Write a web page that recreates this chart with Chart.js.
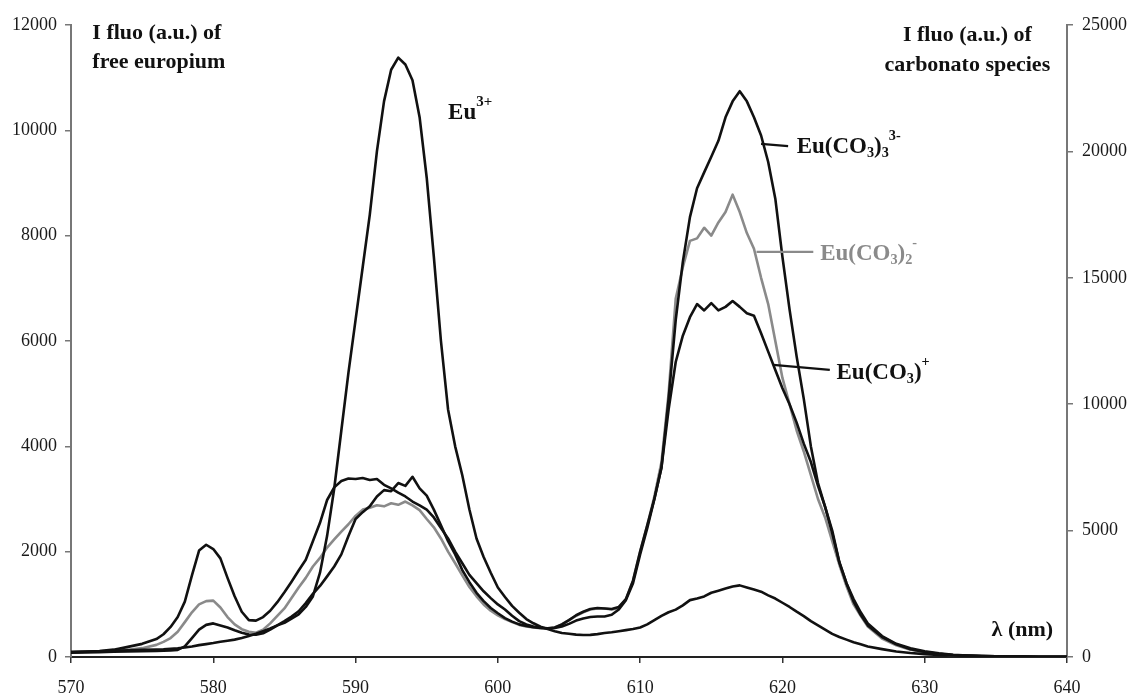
<!DOCTYPE html>
<html>
<head>
<meta charset="utf-8">
<script src="https://cdn.jsdelivr.net/npm/chart.js@4/dist/chart.umd.min.js"></script>
<style>
  html, body { margin: 0; padding: 0; background: #fff; }
  #wrap { width: 1134px; height: 695px; }
</style>
</head>
<body>
<div id="wrap"><canvas id="c" width="1134" height="695"></canvas></div>
<script>
// Wavelength grid (nm)
const wl = [570,571,572,573,574,575,576,
576.5,577,577.5,578,578.5,579,579.5,580,580.5,581,
581.5,582,582.5,583,583.5,584,584.5,585,585.5,586,
586.5,587,587.5,588,588.5,589,589.5,590,590.5,591,
591.5,592,592.5,593,593.5,594,594.5,595,595.5,596,
596.5,597,597.5,598,598.5,599,599.5,600,600.5,601,
601.5,602,602.5,603,603.5,604,604.5,605,605.5,606,
606.5,607,607.5,608,608.5,609,609.5,610,610.5,611,
611.5,612,612.5,613,613.5,614,614.5,615,615.5,616,
616.5,617,617.5,618,618.5,619,619.5,620,620.5,621,
621.5,622,622.5,623,623.5,624,624.5,625,625.5,626,
627,628,629,630,631,632,633,634,635,636,637,638,639,640];

// Free europium Eu3+ (left axis, a.u.)
const eu3 = [100,105,110,120,125,135,140,
145,155,165,180,200,225,245,265,290,310,
330,360,400,440,490,540,600,650,730,810,
950,1150,1600,2300,3200,4300,5400,6400,7400,8400,
9600,10550,11150,11380,11250,10950,10250,9100,7600,6000,
4700,4000,3450,2800,2250,1900,1600,1320,1140,970,
840,720,640,575,530,490,455,440,425,418,
420,435,455,470,490,510,530,560,620,700,
780,850,900,980,1080,1110,1150,1220,1260,1300,
1340,1360,1320,1280,1240,1170,1110,1030,950,860,
775,680,600,520,440,380,330,280,240,200,
150,105,75,55,40,30,22,16,12,10,8,6,5,5];

// Eu(CO3)3 3- (right axis, a.u.)
const euCO3_3 = [190,210,240,290,400,520,710,
900,1190,1580,2190,3230,4210,4440,4270,3900,3130,
2400,1790,1460,1440,1580,1830,2170,2560,2980,3420,
3850,4580,5310,6210,6710,6960,7060,7040,7080,7000,
7040,6810,6670,6500,6350,6150,6000,5830,5520,5100,
4690,4170,3710,3250,2920,2600,2330,2080,1880,1630,
1420,1290,1210,1160,1140,1170,1290,1460,1650,1790,
1900,1940,1920,1900,1980,2290,3020,4170,5210,6250,
7500,10210,13330,15630,17400,18540,19170,19790,20420,21350,
21980,22380,21980,21350,20630,19580,18130,15830,13750,11880,
10210,8330,6880,5940,5000,3750,2920,2290,1770,1330,
830,520,350,230,150,90,60,40,30,20,15,10,10,10];

// Eu(CO3)2 - (right axis, a.u.)
const euCO3_2 = [190,200,220,250,290,350,480,
600,750,1000,1380,1770,2080,2210,2230,1960,1580,
1290,1100,1000,960,1080,1330,1630,1920,2330,2750,
3130,3580,3920,4330,4650,4960,5250,5580,5830,5900,
6000,5960,6080,6020,6150,6000,5810,5460,5130,4690,
4170,3710,3230,2770,2400,2080,1830,1650,1500,1380,
1270,1210,1170,1140,1130,1170,1290,1460,1630,1770,
1880,1920,1920,1880,1940,2290,3020,4170,5210,6350,
7710,10420,14170,15420,16460,16560,16980,16670,17190,17600,
18290,17600,16770,16150,15000,13960,12500,11040,10000,8960,
8130,7190,6250,5520,4580,3650,2810,2080,1630,1210,
730,460,290,190,110,70,50,30,25,20,15,10,10,10];

// Eu(CO3)+ (right axis, a.u.)
const euCO3_1 = [170,180,190,210,220,230,240,
250,260,280,420,750,1080,1270,1330,1250,1170,
1060,960,890,880,940,1080,1250,1420,1600,1810,
2130,2500,2810,3190,3580,4060,4790,5460,5730,5960,
6350,6600,6560,6880,6770,7130,6670,6380,5830,5210,
4580,4060,3440,2960,2540,2210,1940,1730,1540,1400,
1290,1230,1180,1150,1140,1150,1210,1310,1440,1520,
1580,1600,1600,1670,1880,2250,2920,4060,5100,6250,
7500,9790,11670,12710,13440,13960,13710,14000,13710,13850,
14080,13850,13600,13500,12810,12080,11350,10630,10000,9270,
8440,7710,6770,5940,4900,3750,2920,2190,1670,1250,
790,500,310,200,130,80,60,40,30,20,15,10,10,10];

// Axis ticks
const xTicks = [570,580,590,600,610,620,630,640];
const yLeftTicks = [0,2000,4000,6000,8000,10000,12000];
const yRightTicks = [0,5000,10000,15000,20000,25000];

[eu3, euCO3_3, euCO3_2, euCO3_1].forEach((a, i) => {
  if (a.length !== wl.length) throw new Error('length mismatch in series ' + i + ': ' + a.length + ' vs ' + wl.length);
});

const pts = (arr) => wl.map((w, i) => ({ x: w, y: arr[i] }));

const SERIF = '"Liberation Serif", "Times New Roman", serif';
const BLACK = '#111111';
const GREY = '#8a8a8a';

function drawRich(ctx, parts, x, y, size, color, align, supRatio) {
  const small = size * (supRatio || 0.62);
  let w = 0;
  for (const [t, m] of parts) {
    ctx.font = 'bold ' + (m === 'n' ? size : small) + 'px ' + SERIF;
    w += ctx.measureText(t).width;
  }
  let cx = align === 'center' ? x - w / 2 : x;
  ctx.fillStyle = color;
  ctx.textBaseline = 'middle';
  ctx.textAlign = 'left';
  for (const [t, m] of parts) {
    const s = m === 'n' ? size : small;
    ctx.font = 'bold ' + s + 'px ' + SERIF;
    const dy = m === 'sub' ? size * 0.28 : (m === 'sup' ? -size * 0.46 : 0);
    ctx.fillText(t, cx, y + dy);
    cx += ctx.measureText(t).width;
  }
}

const annot = {
  id: 'annot',
  afterDatasetsDraw(chart) {
    const ctx = chart.ctx;
    const X = chart.scales.x, Y = chart.scales.y;
    const px = (v) => X.getPixelForValue(v);
    const py = (v) => Y.getPixelForValue(v);
    ctx.save();
    // axis titles
    drawRich(ctx, [['I fluo (a.u.) of', 'n']], px(571.5), py(11850), 22, BLACK, 'left');
    drawRich(ctx, [['free europium', 'n']], px(571.5), py(11300), 22, BLACK, 'left');
    drawRich(ctx, [['I fluo (a.u.) of', 'n']], px(633.0), py(11810), 22, BLACK, 'center');
    drawRich(ctx, [['carbonato species', 'n']], px(633.0), py(11240), 22, BLACK, 'center');
    drawRich(ctx, [['\u03bb (nm)', 'n']], px(634.7), py(513), 22, BLACK, 'left');
    // Eu3+
    drawRich(ctx, [['Eu', 'n'], ['3+', 'sup']], px(596.5), py(10330), 23, BLACK, 'left', 0.65);
    // leaders
    ctx.lineWidth = 2.2;
    ctx.strokeStyle = BLACK;
    ctx.beginPath(); ctx.moveTo(px(618.5), py(9742)); ctx.lineTo(px(620.4), py(9700)); ctx.stroke();
    ctx.beginPath(); ctx.moveTo(px(619.35), py(5545)); ctx.lineTo(px(623.33), py(5450)); ctx.stroke();
    ctx.strokeStyle = GREY;
    ctx.beginPath(); ctx.moveTo(px(618.18), py(7691)); ctx.lineTo(px(622.17), py(7691)); ctx.stroke();
    // species labels
    drawRich(ctx, [['Eu(CO', 'n'], ['3', 'sub'], [')', 'n'], ['3', 'sub'], ['3-', 'sup']], px(621.0), py(9680), 23, BLACK, 'left');
    drawRich(ctx, [['Eu(CO', 'n'], ['3', 'sub'], [')', 'n'], ['2', 'sub'], ['-', 'sup']], px(622.65), py(7650), 23, GREY, 'left');
    drawRich(ctx, [['Eu(CO', 'n'], ['3', 'sub'], [')', 'n'], ['+', 'sup']], px(623.8), py(5390), 23, BLACK, 'left');
    ctx.restore();
  }
};

const tickFont = { family: SERIF, size: 18 };

new Chart(document.getElementById('c'), {
  type: 'line',
  data: {
    datasets: [
      { label: 'Eu3+', data: pts(eu3), yAxisID: 'y', borderColor: BLACK, borderWidth: 2.6 },
      { label: 'Eu(CO3)3 3-', data: pts(euCO3_3), yAxisID: 'y1', borderColor: BLACK, borderWidth: 2.6 },
      { label: 'Eu(CO3)+', data: pts(euCO3_1), yAxisID: 'y1', borderColor: BLACK, borderWidth: 2.6 },
      { label: 'Eu(CO3)2 -', data: pts(euCO3_2), yAxisID: 'y1', borderColor: GREY, borderWidth: 2.6 }
    ]
  },
  options: {
    responsive: false,
    animation: false,
    devicePixelRatio: 1,
    layout: { padding: { top: 25, left: 0, right: 0, bottom: 0 } },
    elements: { point: { radius: 0 }, line: { tension: 0, fill: false, borderJoinStyle: 'round' } },
    plugins: { legend: { display: false }, tooltip: { enabled: false } },
    scales: {
      x: {
        type: 'linear', min: 570, max: 640,
        afterBuildTicks: (s) => { s.ticks = xTicks.map(v => ({ value: v })); },
        afterFit: (s) => { s.height = 38; },
        grid: { drawOnChartArea: false, drawTicks: true, tickLength: 6, color: '#333', lineWidth: 1.5 },
        border: { display: true, color: '#222', width: 2 },
        ticks: { font: tickFont, color: '#1a1a1a', padding: 14, maxRotation: 0, callback: (v) => String(v) }
      },
      y: {
        type: 'linear', position: 'left', min: 0, max: 12000,
        afterBuildTicks: (s) => { s.ticks = yLeftTicks.map(v => ({ value: v })); },
        afterFit: (s) => { s.width = 71; },
        grid: { drawOnChartArea: false, drawTicks: true, tickLength: 6, color: '#777', lineWidth: 1.5 },
        border: { display: true, color: '#777', width: 2 },
        ticks: { font: tickFont, color: '#1a1a1a', padding: 8, callback: (v) => String(v) }
      },
      y1: {
        type: 'linear', position: 'right', min: 0, max: 25000,
        afterBuildTicks: (s) => { s.ticks = yRightTicks.map(v => ({ value: v })); },
        afterFit: (s) => { s.width = 67; },
        grid: { drawOnChartArea: false, drawTicks: true, tickLength: 6, color: '#777', lineWidth: 1.5 },
        border: { display: true, color: '#777', width: 2 },
        ticks: { font: tickFont, color: '#1a1a1a', padding: 9, callback: (v) => String(v) }
      }
    }
  },
  plugins: [annot]
});
</script>
</body>
</html>
